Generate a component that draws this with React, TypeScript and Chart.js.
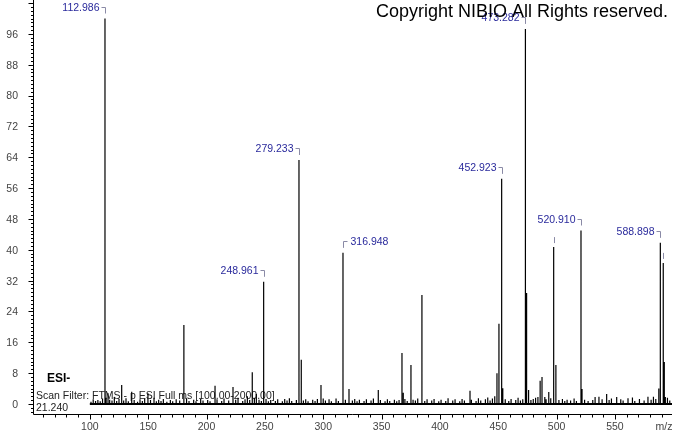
import React, { useEffect, useRef } from "react";
import { Chart, registerables } from "chart.js";

Chart.register(...registerables);

// ---- data (m/z, relative abundance) ----
const peakMz = [
  112.986, 115.6, 127.3, 135.9, 180.6, 207.3, 222.7, 239.2, 248.961, 279.233,
  281.2, 298.1, 316.948, 322.1, 347.2, 367.5, 368.6, 375.2, 384.6, 425.8,
  448.9, 450.6, 452.923, 453.9, 473.282, 474.3, 476.0, 484.0, 485.9, 487.5,
  489.9, 493.3, 497.5, 499.4, 520.91, 521.8, 587.6, 588.898, 591.4, 592.3, 593.2,
];
const peakIntensity = [
  100, 2.8, 4.9, 3.2, 20.5, 4.7, 4.4, 8.2, 31.7, 63.3,
  11.5, 4.9, 39.2, 3.9, 3.6, 13.2, 2.9, 10.1, 28.3, 3.4,
  8.0, 20.8, 58.4, 4.1, 97.3, 28.8, 3.6, 1.8, 6.0, 7.0,
  1.8, 3.1, 40.7, 10.1, 45.0, 3.9, 4.0, 41.8, 36.6, 10.9, 1.8,
];
const noisePeaks: [number, number][] = [
  [101.0, 0.6], [102.9, 1.2], [104.9, 0.8], [106.9, 1.0], [108.9, 0.7], [110.9, 1.4],
  [114.0, 1.6], [117.0, 1.1], [119.0, 0.9], [121.0, 1.8], [123.0, 0.8], [125.0, 1.3],
  [129.0, 0.9], [131.0, 1.5], [133.0, 0.7], [138.0, 1.0], [140.9, 0.6], [143.0, 1.2],
  [145.0, 0.8], [147.0, 1.4], [149.8, 2.8], [152.0, 1.0], [155.0, 1.6], [157.0, 0.7],
  [159.0, 1.1], [161.0, 0.8], [163.0, 1.3], [166.0, 0.6], [169.0, 1.0], [171.0, 0.7],
  [174.0, 1.2], [177.0, 0.9], [182.9, 1.5], [185.0, 0.8], [189.0, 1.1], [191.0, 0.7],
  [195.0, 1.3], [197.0, 0.9], [201.0, 1.0], [203.0, 0.7], [209.0, 1.2], [213.0, 0.8],
  [215.0, 1.4], [219.0, 0.9], [225.0, 1.1], [227.0, 1.6], [231.0, 0.8], [233.0, 1.2],
  [235.0, 2.0], [237.0, 1.0], [241.0, 1.6], [242.7, 2.6], [245.0, 1.1], [247.0, 0.8],
  [251.0, 1.3], [253.0, 0.7], [255.0, 1.0], [259.0, 0.8], [261.0, 1.2], [265.0, 0.7],
  [267.0, 1.3], [269.0, 0.9], [271.0, 1.5], [273.0, 0.8], [277.0, 1.0], [283.0, 0.9],
  [285.0, 1.2], [287.0, 0.7], [291.0, 1.1], [293.0, 0.8], [295.0, 1.3], [300.0, 1.4],
  [301.9, 0.9], [305.0, 1.2], [307.0, 0.7], [311.0, 1.4], [313.0, 0.8], [319.0, 1.1],
  [325.0, 0.9], [327.0, 1.3], [329.0, 0.7], [331.0, 1.1], [335.0, 0.8], [337.0, 1.2],
  [341.0, 0.9], [343.0, 1.4], [349.0, 1.0], [353.0, 0.7], [355.0, 1.2], [357.0, 0.8],
  [361.0, 1.1], [363.0, 0.7], [365.0, 1.0], [370.0, 1.3], [372.0, 0.8], [377.0, 1.1],
  [379.0, 0.9], [381.0, 1.4], [387.0, 0.8], [389.0, 1.2], [393.0, 0.9], [395.0, 1.3],
  [399.0, 0.7], [401.0, 1.1], [405.0, 0.8], [407.0, 1.5], [411.0, 0.9], [413.0, 1.2],
  [417.0, 0.7], [419.0, 1.3], [421.0, 0.9], [427.0, 1.1], [431.0, 0.8], [433.0, 1.5],
  [435.0, 0.9], [439.0, 1.2], [441.0, 1.7], [443.0, 0.9], [445.0, 1.4], [447.0, 2.0],
  [456.0, 1.2], [459.0, 0.8], [461.0, 1.3], [465.0, 1.0], [467.0, 1.6], [469.0, 0.9],
  [471.0, 1.2], [478.0, 1.0], [480.0, 1.3], [482.0, 1.6], [491.0, 1.2], [495.0, 1.5],
  [502.0, 1.0], [505.0, 1.3], [507.0, 0.8], [509.0, 1.1], [512.0, 0.9], [515.0, 1.4],
  [517.0, 0.8], [524.0, 1.1], [527.0, 0.8], [531.0, 1.0], [533.0, 1.8], [536.3, 1.9],
  [539.0, 1.2], [542.9, 2.6], [545.0, 1.0], [547.0, 1.4], [551.5, 1.8], [555.0, 1.2],
  [557.0, 0.9], [561.2, 1.5], [565.0, 1.7], [567.0, 0.8], [571.0, 1.3], [575.0, 0.9],
  [578.3, 1.9], [581.0, 1.1], [583.0, 1.9], [585.0, 1.3], [595.0, 1.6], [597.0, 0.9],
];
const labelledMz = [112.986, 248.961, 279.233, 316.948, 452.923, 473.282, 520.91, 588.898];
const labelledText = ["112.986", "248.961", "279.233", "316.948", "452.923", "473.282", "520.910", "588.898"];
const rightSideLabels = ["316.948"];
const markerOnlyMz = [497.5, 591.4];
const xTickLabels = [100, 150, 200, 250, 300, 350, 400, 450, 500, 550];
const yTickLabels = [0, 8, 16, 24, 32, 40, 48, 56, 64, 72, 80, 88, 96];
const baselineRange = [100, 599];

const X_MIN = 51.3;
const X_MAX = 598.9;
const Y_MIN = -2.6;
const Y_MAX = 104.8;

const FONT = "'Liberation Sans', Arial, sans-serif";

function intensityOf(mz: number): number {
  const i = peakMz.indexOf(mz);
  return i >= 0 ? peakIntensity[i] : 0;
}

function buildSticks() {
  const all: [number, number][] = [];
  peakMz.forEach((m, i) => all.push([m, peakIntensity[i]]));
  noisePeaks.forEach((p) => all.push(p));
  all.sort((a, b) => a[0] - b[0]);
  const pts: { x: number; y: number }[] = [];
  all.forEach(([m, h]) => {
    pts.push({ x: m, y: 0 });
    pts.push({ x: m, y: h });
    pts.push({ x: m, y: 0 });
  });
  return pts;
}

const decorPlugin = {
  id: "spectrumDecor",
  beforeDatasetsDraw(chart: any) {
    const ctx = chart.ctx;
    ctx.save();
    ctx.textAlign = "left";
    ctx.textBaseline = "alphabetic";
    ctx.fillStyle = "#000";
    ctx.font = `bold 12px ${FONT}`;
    ctx.fillText("ESI-", 47, 382);
    ctx.fillStyle = "#222";
    ctx.font = `10.5px ${FONT}`;
    ctx.fillText("Scan Filter: FTMS - p ESI Full ms [100.00-2000.00]", 36, 399);
    ctx.fillText("21.240", 36, 411);
    ctx.restore();
  },
  afterDatasetsDraw(chart: any) {
    const ctx = chart.ctx;
    const xs = chart.scales.x;
    const ys = chart.scales.y;
    const area = chart.chartArea;
    ctx.save();
    // axes
    ctx.strokeStyle = "#000";
    ctx.lineWidth = 1;
    const ax = Math.round(area.left) + 0.5;
    const ay = Math.round(area.bottom) + 0.5;
    ctx.beginPath();
    ctx.moveTo(ax, area.top);
    ctx.lineTo(ax, ay);
    ctx.lineTo(area.right, ay);
    ctx.stroke();
    // y ticks
    ctx.beginPath();
    for (let v = Math.ceil(Y_MIN); v <= Math.floor(Y_MAX); v++) {
      const py = Math.round(ys.getPixelForValue(v)) + 0.5;
      const len = v % 8 === 0 ? 5 : 2.5;
      ctx.moveTo(ax - len, py);
      ctx.lineTo(ax, py);
    }
    ctx.stroke();
    // x ticks
    ctx.beginPath();
    for (let v = Math.ceil(X_MIN / 10) * 10; v <= X_MAX; v += 10) {
      const px = Math.round(xs.getPixelForValue(v)) + 0.5;
      const len = v % 50 === 0 ? 5 : 3;
      ctx.moveTo(px, ay);
      ctx.lineTo(px, ay + len);
    }
    ctx.stroke();
    // tick labels
    ctx.fillStyle = "#444";
    ctx.font = `10.5px ${FONT}`;
    ctx.textAlign = "right";
    ctx.textBaseline = "middle";
    yTickLabels.forEach((v) => {
      ctx.fillText(String(v), 18, ys.getPixelForValue(v) + 1);
    });
    ctx.textAlign = "center";
    xTickLabels.forEach((v) => {
      ctx.fillText(String(v), xs.getPixelForValue(v), 427);
    });
    ctx.fillText("m/z", 664, 427);

    // peak annotations
    ctx.strokeStyle = "#8a8aa6";
    ctx.lineWidth = 1;
    ctx.font = `10.5px ${FONT}`;
    ctx.fillStyle = "#2a2a9c";
    labelledMz.forEach((m, i) => {
      const px = Math.round(xs.getPixelForValue(m)) + 0.5;
      const py = ys.getPixelForValue(intensityOf(m));
      const top = Math.round(py - 12) + 0.5;
      const right = rightSideLabels.includes(labelledText[i]);
      ctx.beginPath();
      ctx.moveTo(right ? px + 4 : px - 4, top);
      ctx.lineTo(px, top);
      ctx.lineTo(px, py - 5);
      ctx.stroke();
      ctx.textAlign = right ? "left" : "right";
      ctx.textBaseline = "middle";
      ctx.fillText(labelledText[i], right ? px + 7 : px - 6, top + 1);
    });
    markerOnlyMz.forEach((m) => {
      const px = Math.round(xs.getPixelForValue(m)) + 0.5;
      const py = ys.getPixelForValue(intensityOf(m));
      ctx.beginPath();
      ctx.moveTo(px, py - 10);
      ctx.lineTo(px, py - 4);
      ctx.stroke();
    });
    ctx.restore();
  },
  afterDraw(chart: any) {
    const ctx = chart.ctx;
    ctx.save();
    ctx.fillStyle = "#000";
    ctx.font = `18px ${FONT}`;
    ctx.textAlign = "right";
    ctx.textBaseline = "alphabetic";
    ctx.fillText("Copyright NIBIO All Rights reserved.", 668, 17);
    ctx.restore();
  },
};

export default function App() {
  const ref = useRef<HTMLCanvasElement | null>(null);

  useEffect(() => {
    document.body.style.margin = "0";
    document.body.style.overflow = "hidden";
    document.body.style.background = "#fff";
    if (!ref.current) return;
    const chart = new Chart(ref.current, {
      type: "line",
      data: {
        datasets: [
          {
            label: "baseline",
            data: baselineRange.map((m) => ({ x: m, y: 0 })),
            borderColor: "#000",
            borderWidth: 2,
            pointRadius: 0,
          },
          {
            label: "spectrum",
            data: buildSticks(),
            borderColor: "#000",
            borderWidth: 1.2,
            pointRadius: 0,
            tension: 0,
          },
        ],
      },
      options: {
        responsive: false,
        animation: false,
        events: [],
        layout: { padding: { left: 33, top: 0, right: 2, bottom: 20 } },
        plugins: { legend: { display: false }, tooltip: { enabled: false } },
        scales: {
          x: { type: "linear", min: X_MIN, max: X_MAX, display: false },
          y: { type: "linear", min: Y_MIN, max: Y_MAX, display: false },
        },
      },
      plugins: [decorPlugin],
    });
    return () => chart.destroy();
  }, []);

  return (
    <div style={{ width: 674, height: 434, background: "#fff" }}>
      <canvas ref={ref} width={674} height={434} style={{ display: "block" }} />
    </div>
  );
}
